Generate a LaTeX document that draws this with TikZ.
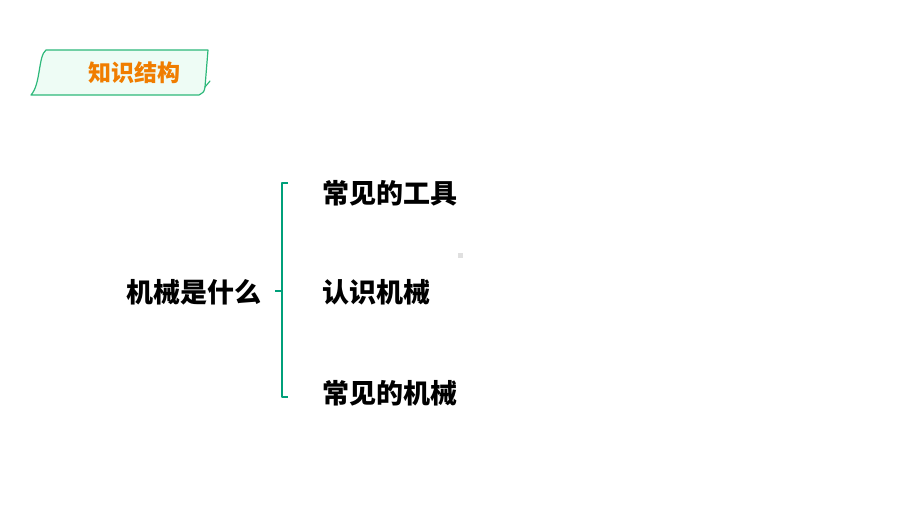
\documentclass[tikz,border=0pt]{standalone}
\usepackage{fontspec}
\usetikzlibrary{calc}
\newfontfamily\cjk{Noto Sans CJK SC}
\definecolor{tabgreen}{HTML}{2DB87A}
\definecolor{tabfill}{HTML}{EEFCF5}
\definecolor{tabtext}{HTML}{F07D00}
\definecolor{bracegreen}{HTML}{00A07A}
\tikzset{
  topic/.style={font=\cjk\bfseries\fontsize{27}{31}\selectfont, inner sep=0pt},
  item/.style={topic, anchor=west},
}
\begin{document}
\begin{tikzpicture}[x=1pt,y=-1pt, line join=round,line cap=round]
	\useasboundingbox (0,0) rectangle (920,518);
	% header tab
	\draw[tabgreen, fill=tabfill, line width=1.2pt] (31,95) .. controls (41,84) and (38,56) .. (46,50) -- (208,50) -- (205,87) .. controls (204,92) .. (199,95) -- cycle;
	\draw[tabgreen, line width=1.2pt] (205,87) -- (210,81);
	\node[font=\cjk\bfseries\fontsize{23}{26}\selectfont, text=tabtext, inner sep=0pt] (tab) at (134,73) {知识结构};
	% main topic and items
	\node[topic] (root) at (194,292) {机械是什么};
	\node[item] (tools) at (322,193) {常见的工具};
	\node[item] (know) at (322,292) {认识机械};
	\node[item] (mach) at (322,393) {常见的机械};
	% bracket
	\coordinate (bt) at (282,183);
	\coordinate (bb) at (282,397);
	\coordinate (bm) at (282,291);
	\draw[bracegreen, line width=2.8pt, line cap=butt] ($(bt)+(6,0)$) -- (bt) -- (bb) -- ($(bb)+(6,0)$);
	\draw[bracegreen, line width=2.8pt, line cap=butt] (bm) -- ++(-7,0);
	% stray mark
	\fill[black!12] (457.5,253.5) rectangle ++(5,5);
\end{tikzpicture}
\end{document}
